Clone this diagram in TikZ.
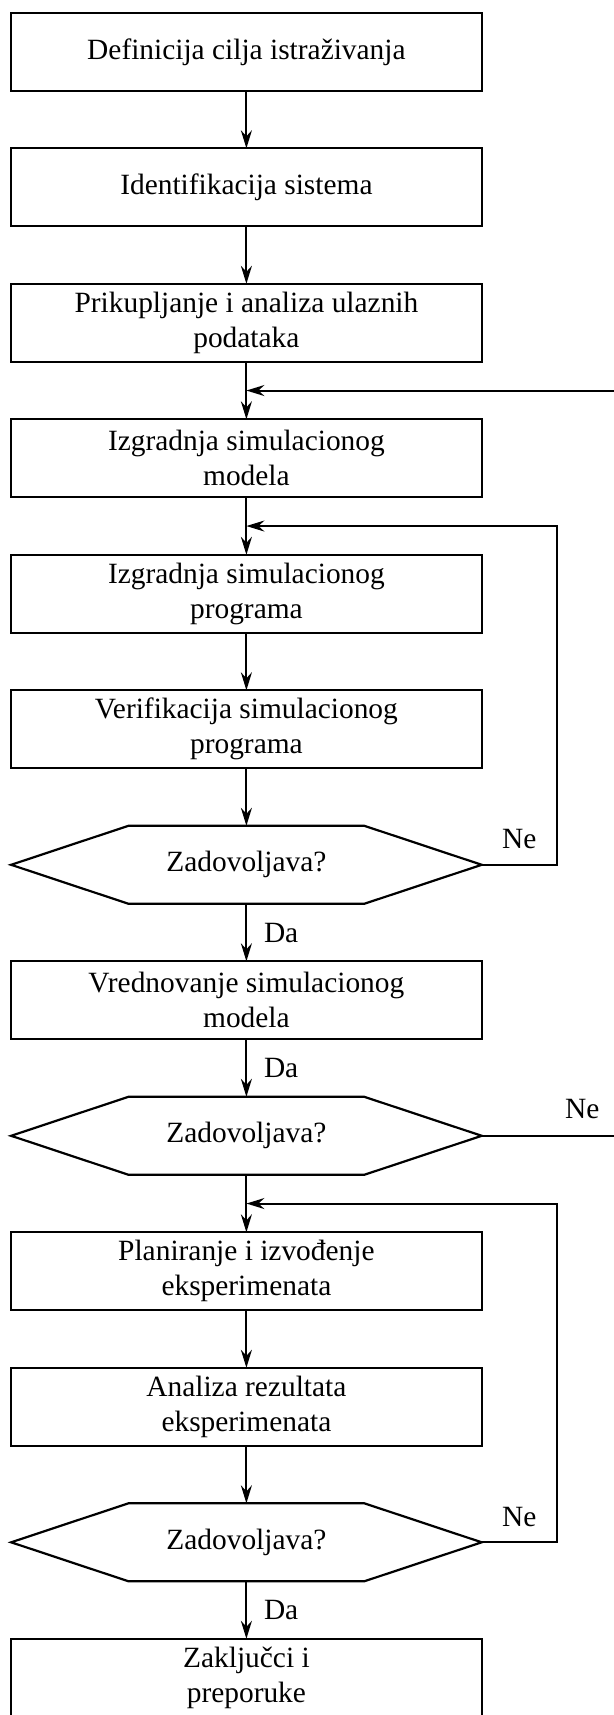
\documentclass[tikz,border=0pt]{standalone}
\usepackage{fontspec}
\setmainfont{Liberation Serif}
\usetikzlibrary{positioning,arrows.meta}
\tikzset{
  korak/.style={draw, line width=1.1pt, minimum width=235.3pt, minimum height=39pt, align=center, inner sep=0pt, outer sep=0pt},
  odluka/.style={minimum width=235.3pt, minimum height=39pt, inner sep=0pt, outer sep=0pt},
  veza/.style={line width=1pt, -{Stealth[length=9pt,width=5.5pt,inset=3pt]}},
  linija/.style={line width=1pt},
  oznaka/.style={inner sep=0pt}
}
\begin{document}
\begin{tikzpicture}[font=\fontsize{14.7}{17.5}\selectfont, node distance=28.75pt]
  \useasboundingbox (0,0) rectangle (307pt,857.5pt);
  \node[korak] (cilj) at (123.2pt,831.6pt) {Definicija cilja istraživanja};
  \node[korak, below=of cilj] (sistem) {Identifikacija sistema};
  \node[korak, below=of sistem] (podaci) {Prikupljanje i analiza ulaznih\\podataka};
  \node[korak, below=of podaci] (model) {Izgradnja simulacionog\\modela};
  \node[korak, below=of model] (program) {Izgradnja simulacionog\\programa};
  \node[korak, below=of program] (verif) {Verifikacija simulacionog\\programa};
  \node[odluka, below=of verif] (zad1) {Zadovoljava?};
  \node[korak, below=of zad1] (vred) {Vrednovanje simulacionog\\modela};
  \node[odluka, below=of vred] (zad2) {Zadovoljava?};
  \node[korak, below=of zad2] (plan) {Planiranje i izvođenje\\eksperimenata};
  \node[korak, below=of plan] (analiza) {Analiza rezultata\\eksperimenata};
  \node[odluka, below=of analiza] (zad3) {Zadovoljava?};
  \node[korak, below=of zad3] (zakljucak) {Zaključci i\\preporuke};

  % decision outlines
  \foreach \d in {zad1,zad2,zad3}
    \draw[line width=1.1pt] (\d.west) -- ([xshift=58.7pt]\d.north west)
      -- ([xshift=-58.7pt]\d.north east) -- (\d.east)
      -- ([xshift=-58.7pt]\d.south east) -- ([xshift=58.7pt]\d.south west) -- cycle;

  % junctions of the feedback lines
  \path (podaci) -- (model) coordinate[midway] (j1);
  \path (model) -- (program) coordinate[midway] (j2);
  \path (zad2) -- (plan) coordinate[midway] (j3);
  \coordinate[right=183.8pt of j1] (ulaz);
  \coordinate[right=66.2pt of zad2.east] (izlaz);

  \draw[veza] (cilj) -- (sistem);
  \draw[veza] (sistem) -- (podaci);
  \draw[veza] (podaci) -- (model);
  \draw[veza] (model) -- (program);
  \draw[veza] (program) -- (verif);
  \draw[veza] (verif) -- (zad1);
  \draw[veza] (zad1) -- node[oznaka, right=8.3pt] {Da} (vred);
  \draw[veza] (vred) -- node[oznaka, right=8.3pt] {Da} (zad2);
  \draw[veza] (zad2) -- (plan);
  \draw[veza] (plan) -- (analiza);
  \draw[veza] (analiza) -- (zad3);
  \draw[veza] (zad3) -- node[oznaka, right=8.3pt] {Da} (zakljucak);

  \draw[veza] (ulaz) -- (j1);
  \draw[veza] (zad1.east) -- node[oznaka, above=7.5pt] {Ne} ++(37.6pt,0) |- (j2);
  \draw[linija] (zad2.east) -- node[oznaka, above=8pt, pos=0.76] {Ne} (izlaz);
  \draw[veza] (zad3.east) -- node[oznaka, above=7.5pt] {Ne} ++(37.6pt,0) |- (j3);
\end{tikzpicture}
\end{document}
